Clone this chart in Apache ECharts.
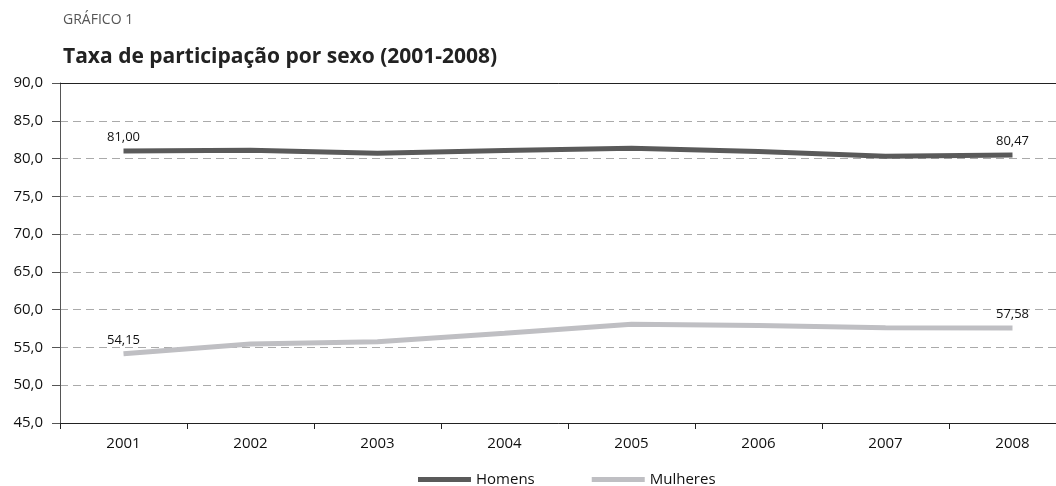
<!DOCTYPE html>
<html>
<head>
<meta charset="utf-8">
<script src="https://cdn.jsdelivr.net/npm/echarts@6/dist/echarts.min.js"></script>
<style>
  html, body { margin: 0; padding: 0; background: #fff; }
  #chart { width: 1056px; height: 486px; }
</style>
</head>
<body>
<div id="chart"></div>
<script>
// dados
const anos = ['2001', '2002', '2003', '2004', '2005', '2006', '2007', '2008']
const homens = [81.00, 81.10, 80.70, 81.05, 81.36, 80.95, 80.30, 80.47]
const mulheres = [54.15, 55.46, 55.76, 56.87, 58.06, 57.90, 57.62, 57.58]

const fonte = '"Open Sans", "Noto Sans", sans-serif'
const corHomens = '#5a5a5a'
const corMulheres = '#bfbfc3'

// rotulo só no primeiro e no ultimo ponto
function rotulo(p) {
  if (p.dataIndex === 0 || p.dataIndex === anos.length - 1) {
    return p.value.toFixed(2).replace('.', ',')
  }
  return ''
}

const chart = echarts.init(document.getElementById('chart'), null, { renderer: 'canvas' })

chart.setOption({
  animation: false,
  title: [
    {
      text: 'GRÁFICO 1',
      left: 58, top: 8,
      textStyle: { fontFamily: fonte, fontSize: 14, fontWeight: 'normal', color: '#555' }
    },
    {
      text: 'Taxa de participação por sexo (2001-2008)',
      left: 58, top: 42,
      textStyle: { fontFamily: fonte, fontSize: 21, fontWeight: 'bold', color: '#222' }
    }
  ],
  legend: {
    top: 467,
    left: 413,
    itemWidth: 53,
    itemHeight: 5,
    itemGap: 57,
    icon: 'rect',
    textStyle: { fontFamily: fonte, fontSize: 15, color: '#111' },
    data: ['Homens', 'Mulheres']
  },
  grid: {
    left: 60,
    top: 83,
    width: 1016,
    height: 340,
    outerBoundsMode: 'none'
  },
  xAxis: [
    {
      type: 'category',
      data: anos,
      boundaryGap: true,
      axisLine: { lineStyle: { color: '#222', width: 1 } },
      axisTick: { show: true, length: 6, lineStyle: { color: '#222' } },
      axisLabel: { fontFamily: fonte, fontSize: 15, color: '#111', margin: 13 }
    },
    {
      type: 'category',
      data: anos,
      position: 'top',
      axisLine: { lineStyle: { color: '#222', width: 1 } },
      axisTick: { show: false },
      axisLabel: { show: false }
    }
  ],
  yAxis: {
    type: 'value',
    min: 45,
    max: 90,
    interval: 5,
    axisLine: { show: true, lineStyle: { color: '#555', width: 1 } },
    axisTick: { show: true, length: 8, lineStyle: { color: '#555' } },
    axisLabel: {
      fontFamily: fonte, fontSize: 15, color: '#111', margin: 17,
      formatter: v => v.toFixed(1).replace('.', ',')
    },
    splitLine: { show: true, lineStyle: { color: '#aaa', type: [8, 5], width: 1 } }
  },
  series: [
    {
      name: 'Homens',
      type: 'line',
      data: homens,
      symbol: 'circle',
      symbolSize: 0,
      showSymbol: true,
      lineStyle: { color: corHomens, width: 5 },
      itemStyle: { color: corHomens },
      label: {
        show: true, position: 'top', distance: 7,
        fontFamily: fonte, fontSize: 13, color: '#111',
        formatter: rotulo
      }
    },
    {
      name: 'Mulheres',
      type: 'line',
      data: mulheres,
      symbol: 'circle',
      symbolSize: 0,
      showSymbol: true,
      lineStyle: { color: corMulheres, width: 5 },
      itemStyle: { color: corMulheres },
      label: {
        show: true, position: 'top', distance: 7,
        fontFamily: fonte, fontSize: 13, color: '#111',
        formatter: rotulo
      }
    }
  ]
})
</script>
</body>
</html>
